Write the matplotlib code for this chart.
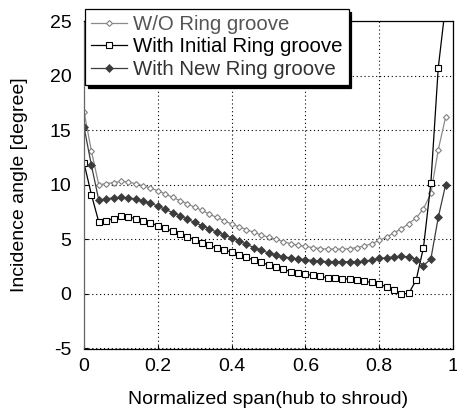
import numpy as np
import matplotlib
matplotlib.use("Agg")
import matplotlib.pyplot as plt

plt.rcParams['font.family'] = ['Liberation Sans', 'DejaVu Sans']
plt.rcParams['axes.unicode_minus'] = False

span = [round(0.02 * i, 2) for i in range(51)]

wo_groove = [16.7, 13.1, 10.0, 10.1, 10.2, 10.3, 10.25, 10.1, 9.9, 9.7,
             9.45, 9.15, 8.85, 8.55, 8.25, 7.95, 7.65, 7.3, 7.0, 6.7,
             6.4, 6.15, 5.9, 5.65, 5.4, 5.2, 5.0, 4.8, 4.6, 4.45,
             4.35, 4.25, 4.15, 4.1, 4.1, 4.1, 4.15, 4.25, 4.4, 4.6,
             4.9, 5.2, 5.6, 5.95, 6.45, 6.95, 7.8, 9.2, 13.2, 16.2, np.nan]

initial_groove = [12.0, 9.1, 6.6, 6.7, 6.9, 7.1, 7.05, 6.9, 6.7, 6.5,
                  6.25, 6.0, 5.75, 5.5, 5.25, 4.95, 4.7, 4.45, 4.2, 4.0,
                  3.85, 3.6, 3.35, 3.1, 2.9, 2.65, 2.45, 2.25, 2.05, 1.9,
                  1.8, 1.7, 1.6, 1.5, 1.45, 1.4, 1.35, 1.25, 1.15, 1.05,
                  0.9, 0.65, 0.35, 0.0, 0.05, 1.25, 4.25, 10.15, 20.7, 26.5, np.nan]

new_groove = [15.3, 11.8, 8.6, 8.7, 8.8, 8.85, 8.8, 8.7, 8.5, 8.3,
              8.05, 7.75, 7.45, 7.15, 6.85, 6.55, 6.25, 5.95, 5.65, 5.4,
              5.15, 4.85, 4.55, 4.25, 4.0, 3.75, 3.55, 3.4, 3.3, 3.2,
              3.15, 3.05, 3.0, 2.95, 2.95, 2.95, 2.95, 2.95, 3.0, 3.1,
              3.25, 3.3, 3.4, 3.45, 3.4, 3.15, 2.6, 3.2, 7.0, 10.0, np.nan]

x_ticks = [0, 0.2, 0.4, 0.6, 0.8, 1]
x_tick_labels = ['0', '0.2', '0.4', '0.6', '0.8', '1']
y_ticks = [-5, 0, 5, 10, 15, 20, 25]

W, H = 457, 409
fig = plt.figure(figsize=(W / 100, H / 100), dpi=100)
ax = fig.add_axes([84 / W, 1 - 348.5 / H, (453 - 84) / W, (348.5 - 21) / H])

ax.plot(span, wo_groove, color='#8a8a8a', lw=0.9, marker='D', ms=3,
        mfc='white', mec='#808080', mew=0.8, label='W/O Ring groove')
ax.plot(span, initial_groove, color='black', lw=0.9, marker='s', ms=4.4,
        mfc='white', mec='black', mew=0.8, label='With Initial Ring groove')
ax.plot(span, new_groove, color='#3c3c3c', lw=0.9, marker='D', ms=3.6,
        mfc='#3c3c3c', mec='#3c3c3c', mew=0.5, label='With New Ring groove')

ax.set_xlim(0, 1)
ax.set_ylim(-5, 25)
ax.set_xticks(x_ticks)
ax.set_xticklabels(x_tick_labels)
ax.set_yticks(y_ticks)
ax.tick_params(direction='in', length=3, labelsize=14)
ax.tick_params(axis='y', pad=9)
ax.tick_params(axis='x', pad=7)
ax.grid(True, color='black', linestyle=(0, (1, 2.5)), linewidth=0.8)
for s in ax.spines.values():
    s.set_linewidth(0.9)
ax.spines['left'].set_color('#666666')

ax.set_xlabel('Normalized span(hub to shroud)', fontsize=14, labelpad=11)
ax.set_ylabel('Incidence angle [degree]', fontsize=14, labelpad=16)

leg = fig.legend(loc='upper left', bbox_to_anchor=(85 / W, 1 - 9 / H),
                 fontsize=14.7, frameon=True, fancybox=False, numpoints=1,
                 handlelength=1.75, handletextpad=0.3, borderpad=0.3,
                 labelspacing=0.16, borderaxespad=0,
                 shadow={'color': 'black', 'alpha': 1.0})
leg.get_frame().set_edgecolor('black')
leg.get_frame().set_linewidth(0.9)
for t, c in zip(leg.get_texts(), ['#555555', 'black', '#333333']):
    t.set_color(c)

fig.savefig('out.png', dpi=100)
